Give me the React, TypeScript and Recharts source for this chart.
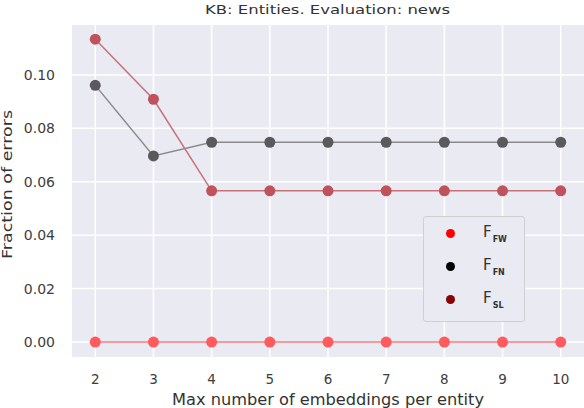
import React from 'react';
import {
  LineChart,
  Line,
  XAxis,
  YAxis,
  CartesianGrid,
  ReferenceLine,
} from 'recharts';

const embeddings = [2, 3, 4, 5, 6, 7, 8, 9, 10];
const fwValues = [0, 0, 0, 0, 0, 0, 0, 0, 0];
const fnValues = [0.0961, 0.0697, 0.0748, 0.0748, 0.0748, 0.0748, 0.0748, 0.0748, 0.0748];
const slValues = [0.1134, 0.0909, 0.0566, 0.0566, 0.0566, 0.0566, 0.0566, 0.0566, 0.0566];
const yTicks = [0, 0.02, 0.04, 0.06, 0.08, 0.1];
const xTicks = [2, 3, 4, 5, 6, 7, 8, 9, 10];

const data = embeddings.map((n, i) => ({
  n,
  fw: fwValues[i],
  fn: fnValues[i],
  sl: slValues[i],
}));

const FONT = '"DejaVu Sans", Verdana, sans-serif';
const TEXT = '#333333';

// legend entries: marker colour + subscript
const legendItems = [
  { sub: 'FW', color: '#ff0000' },
  { sub: 'FN', color: '#000000' },
  { sub: 'SL', color: '#8b0000' },
];

const LegendBox = () => (
  <div
    style={{
      position: 'absolute',
      left: 423,
      top: 216,
      width: 100,
      height: 104,
      border: '1px solid #cfcfd4',
      borderRadius: 3,
      background: '#eaeaf2',
      fontFamily: FONT,
      color: TEXT,
    }}
  >
    {legendItems.map((it, i) => (
      <div
        key={it.sub}
        style={{
          position: 'absolute',
          left: 22,
          top: 7 + i * 33,
          height: 18,
          display: 'flex',
          alignItems: 'center',
        }}
      >
        <span
          style={{
            display: 'inline-block',
            width: 9,
            height: 9,
            borderRadius: '50%',
            background: it.color,
          }}
        />
        <span style={{ marginLeft: 28, fontSize: 15, lineHeight: '18px' }}>
          F
          <span style={{ fontSize: 8, fontWeight: 'bold', position: 'relative', top: 5, marginLeft: 1 }}>{it.sub}</span>
        </span>
      </div>
    ))}
  </div>
);

// title and axis titles, stretched to the widths seen in the picture
const Titles = () => (
  <svg
    width={584}
    height={408}
    style={{ position: 'absolute', left: 0, top: 0, pointerEvents: 'none' }}
    fontFamily={FONT}
    fill={TEXT}
  >
    <text x={205} y={13.5} fontSize={13} textLength={245} lengthAdjust="spacingAndGlyphs">
      KB: Entities. Evaluation: news
    </text>
    <text x={172} y={405} fontSize={15} textLength={312} lengthAdjust="spacingAndGlyphs">
      Max number of embeddings per entity
    </text>
    <text
      transform="translate(11.5,184.5) rotate(-90)"
      x={-74.5}
      y={0}
      fontSize={14}
      textLength={149}
      lengthAdjust="spacingAndGlyphs"
    >
      Fraction of errors
    </text>
  </svg>
);

export default function App() {
  return (
    <div style={{ position: 'absolute', left: 0, top: 0, width: 584, height: 408, background: '#fff' }}>
      <LineChart
        width={584}
        height={408}
        data={data}
        margin={{ top: 25, right: 0, left: 0, bottom: 0 }}
        style={{ fontFamily: FONT }}
      >
        <CartesianGrid horizontal={false} vertical={false} fill="#eaeaf2" fillOpacity={1} />
        <XAxis
          dataKey="n"
          type="number"
          domain={[1.6, 10.4]}
          ticks={xTicks}
          allowDataOverflow
          axisLine={false}
          tickLine={false}
          tickSize={6}
          tickMargin={11}
          height={51}
          tick={{ fill: '#3d3d3d', fontSize: 13.5 }}
        />
        <YAxis
          type="number"
          domain={[-0.0056, 0.1187]}
          ticks={yTicks}
          allowDataOverflow
          width={72}
          axisLine={false}
          tickLine={false}
          tickSize={6}
          tickMargin={11}
          tick={{ fill: '#3d3d3d', fontSize: 14 }}
          tickFormatter={(v: number) => v.toFixed(2)}
        />
        {xTicks.map((t) => (
          <ReferenceLine key={`gx${t}`} x={t} stroke="#ffffff" strokeWidth={1.5} />
        ))}
        {yTicks.map((t) => (
          <ReferenceLine key={`gy${t}`} y={t} stroke="#ffffff" strokeWidth={1.5} />
        ))}
        <Line
          dataKey="fw"
          stroke="#f47a7e"
          strokeWidth={1.5}
          dot={{ r: 5.5, fill: '#ff5a5e', stroke: 'none' }}
          isAnimationActive={false}
        />
        <Line
          dataKey="fn"
          stroke="#8a8a8e"
          strokeWidth={1.5}
          dot={{ r: 5.5, fill: '#5a5a5e', stroke: 'none' }}
          isAnimationActive={false}
        />
        <Line
          dataKey="sl"
          stroke="#c87078"
          strokeWidth={1.5}
          dot={{ r: 5.5, fill: '#c0525e', stroke: 'none' }}
          isAnimationActive={false}
        />
      </LineChart>
      <Titles />
      <LegendBox />
    </div>
  );
}
